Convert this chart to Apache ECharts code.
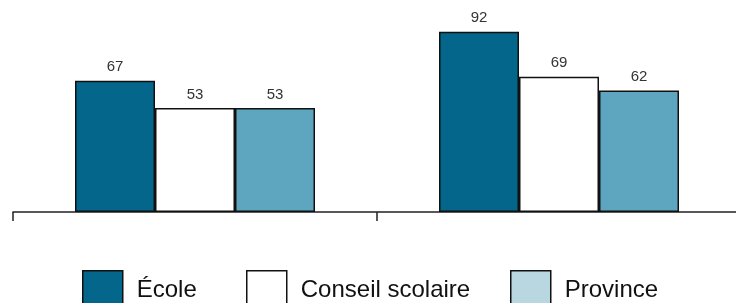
<!DOCTYPE html>
<html>
<head>
<meta charset="utf-8">
<script src="https://cdn.jsdelivr.net/npm/echarts@6/dist/echarts.min.js"></script>
<style>html,body{margin:0;padding:0;background:#fff;}#c{width:736px;height:303px;}</style>
</head>
<body>
<div id="c"></div>
<script>
const categories = ['Groupe 1', 'Groupe 2'];
const seriesNames = ['École', 'Conseil scolaire', 'Province'];
const ecole = [67, 92];
const conseil = [53, 69];
const province = [53, 62];
const barColors = ['#04668a', '#ffffff', '#5ea6bf'];
const legendColors = ['#04668a', '#ffffff', '#b8d7e1'];
const legendLeft = [82, 246, 510];
const values = [ecole, conseil, province];

const chart = echarts.init(document.getElementById('c'), null, {renderer: 'canvas'});
const font = 'Liberation Sans, Arial, sans-serif';
chart.setOption({
  animation: false,
  grid: {left: 13, width: 728, top: 16, bottom: 91, containLabel: false, outerBoundsMode: 'none'},
  xAxis: {
    type: 'category',
    data: categories,
    axisLine: {lineStyle: {color: '#222', width: 1.5}},
    axisTick: {show: true, length: 9, lineStyle: {color: '#222', width: 1.5}},
    axisLabel: {show: false}
  },
  yAxis: {type: 'value', min: 0, max: 100, show: false, splitLine: {show: false}},
  legend: seriesNames.map((n, i) => ({
    left: legendLeft[i],
    top: 270,
    padding: 0,
    itemWidth: 40,
    itemHeight: 40,
    icon: 'rect',
    selectedMode: false,
    textStyle: {fontSize: 24, fontFamily: font, color: '#111', padding: [0, 0, 0, 9]},
    data: [{
      name: n,
      itemStyle: {color: legendColors[i], borderColor: '#111', borderWidth: 1.5}
    }]
  })),
  series: seriesNames.map((n, i) => ({
    name: n,
    type: 'bar',
    data: values[i],
    barWidth: 80,
    barGap: '0%',
    itemStyle: {color: barColors[i], borderColor: '#111', borderWidth: 1.5},
    label: {show: true, position: 'top', distance: 6, fontSize: 15, fontFamily: font, color: '#333'}
  }))
});
</script>
</body>
</html>
